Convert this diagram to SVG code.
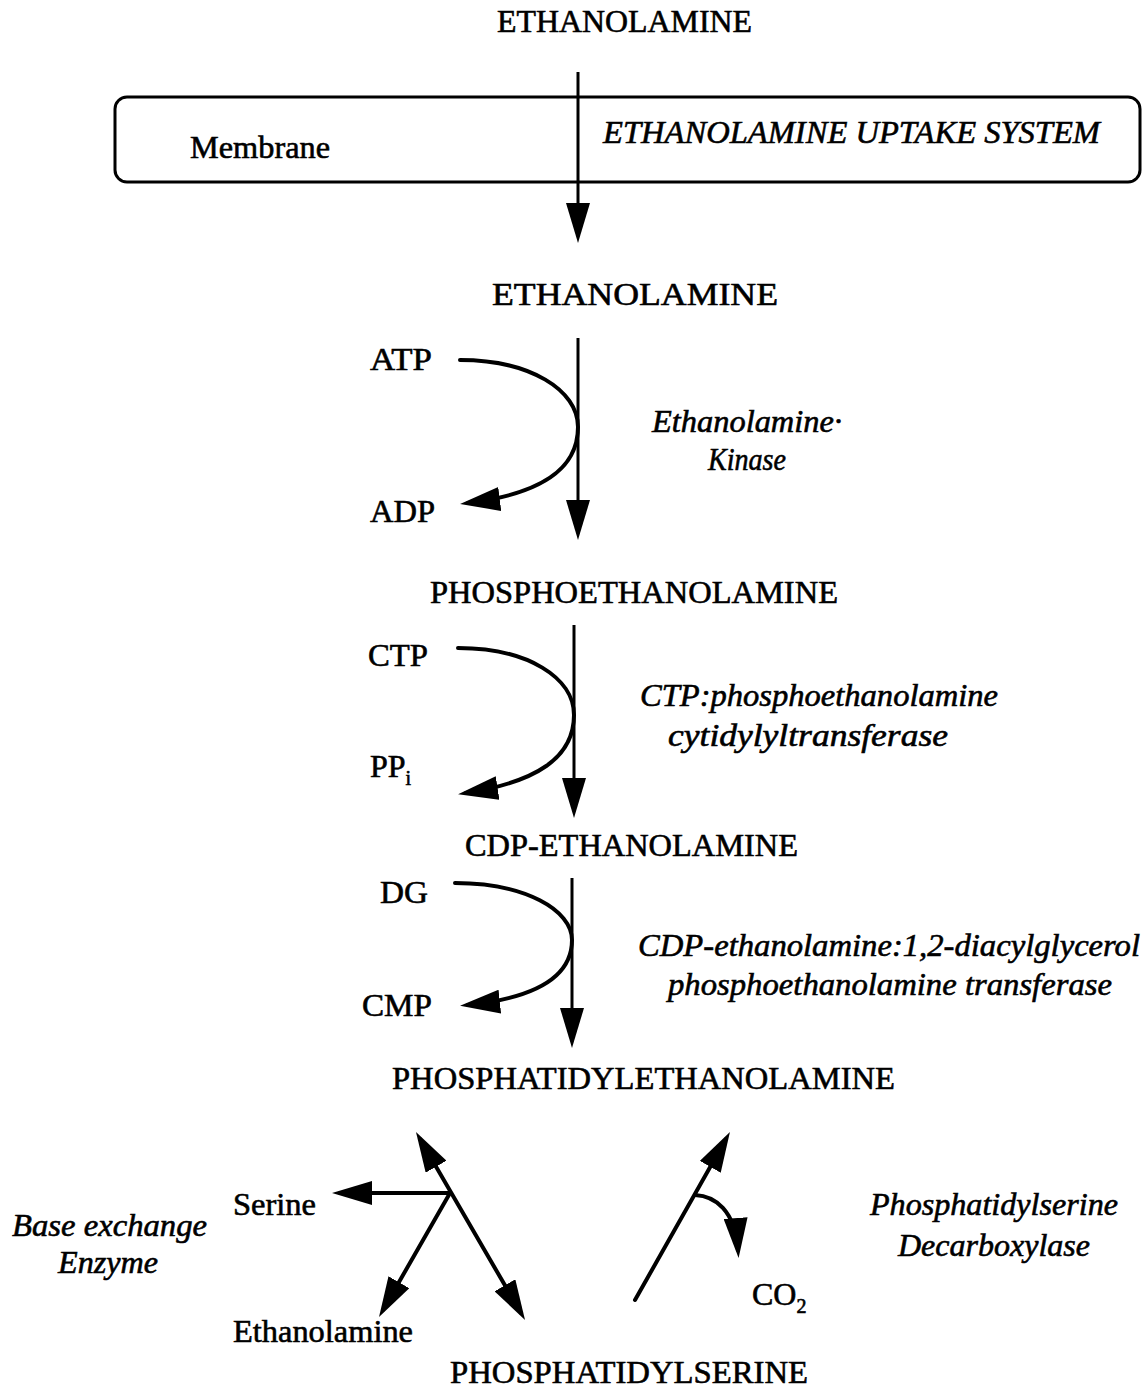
<svg xmlns="http://www.w3.org/2000/svg" width="1148" height="1389" viewBox="0 0 1148 1389">
<style>
  text { font-family: "Liberation Serif", "Times New Roman", serif; font-size: 32px; fill: #000; stroke: #000; stroke-width: 0.6; }
  .it { font-style: italic; }
  .sub { font-size: 20px; }
  .ln { fill: none; stroke: #000; stroke-width: 3; }
  .cv { fill: none; stroke: #000; stroke-width: 4; stroke-linecap: round; }
</style>
<defs>
  <marker id="ah" markerUnits="userSpaceOnUse" markerWidth="40" markerHeight="24" refX="32" refY="12" orient="auto-start-reverse" viewBox="0 0 40 24">
    <path d="M0,0 L40,12 L0,24 Z" fill="#000"/>
  </marker>
</defs>
<rect width="1148" height="1389" fill="#fff"/>

<g id="n-ethanolamine-out"><text x="497" y="32" textLength="255" lengthAdjust="spacingAndGlyphs">ETHANOLAMINE</text></g>
<g id="n-membrane">
  <rect x="115" y="97" width="1025" height="85" rx="12" ry="12" fill="none" stroke="#000" stroke-width="3"/>
  <text x="190" y="158" textLength="140" lengthAdjust="spacingAndGlyphs">Membrane</text>
  <text class="it" x="603" y="143" textLength="497" lengthAdjust="spacingAndGlyphs">ETHANOLAMINE UPTAKE SYSTEM</text>
</g>
<g id="n-ethanolamine-in"><text x="492" y="305" textLength="286" lengthAdjust="spacingAndGlyphs">ETHANOLAMINE</text></g>
<g id="n-atp"><text x="370" y="370" textLength="62" lengthAdjust="spacingAndGlyphs">ATP</text></g>
<g id="n-adp"><text x="370" y="522" textLength="65" lengthAdjust="spacingAndGlyphs">ADP</text></g>
<g id="e-kinase">
  <text class="it" x="652" y="432" textLength="190" lengthAdjust="spacingAndGlyphs">Ethanolamine·</text>
  <text class="it" x="708" y="470" textLength="78" lengthAdjust="spacingAndGlyphs">Kinase</text>
</g>
<g id="n-phosphoethanolamine"><text x="430" y="603" textLength="408" lengthAdjust="spacingAndGlyphs">PHOSPHOETHANOLAMINE</text></g>
<g id="n-ctp"><text x="368" y="666" textLength="60" lengthAdjust="spacingAndGlyphs">CTP</text></g>
<g id="n-ppi"><text x="370" y="777">PP<tspan class="sub" dy="8">i</tspan></text></g>
<g id="e-cytidylyltransferase">
  <text class="it" x="640" y="706" textLength="358" lengthAdjust="spacingAndGlyphs">CTP:phosphoethanolamine</text>
  <text class="it" x="668" y="746" textLength="280" lengthAdjust="spacingAndGlyphs">cytidylyltransferase</text>
</g>
<g id="n-cdp-ethanolamine"><text x="465" y="856" textLength="333" lengthAdjust="spacingAndGlyphs">CDP-ETHANOLAMINE</text></g>
<g id="n-dg"><text x="380" y="903" textLength="48" lengthAdjust="spacingAndGlyphs">DG</text></g>
<g id="n-cmp"><text x="362" y="1016" textLength="70" lengthAdjust="spacingAndGlyphs">CMP</text></g>
<g id="e-transferase">
  <text class="it" x="638" y="956" textLength="502" lengthAdjust="spacingAndGlyphs">CDP-ethanolamine:1,2-diacylglycerol</text>
  <text class="it" x="668" y="995" textLength="444" lengthAdjust="spacingAndGlyphs">phosphoethanolamine transferase</text>
</g>
<g id="n-phosphatidylethanolamine"><text x="392" y="1089" textLength="503" lengthAdjust="spacingAndGlyphs">PHOSPHATIDYLETHANOLAMINE</text></g>
<g id="n-serine"><text x="233" y="1215" textLength="83" lengthAdjust="spacingAndGlyphs">Serine</text></g>
<g id="e-base-exchange">
  <text class="it" x="12" y="1236" textLength="195" lengthAdjust="spacingAndGlyphs">Base exchange</text>
  <text class="it" x="58" y="1273" textLength="100" lengthAdjust="spacingAndGlyphs">Enzyme</text>
</g>
<g id="n-ethanolamine-free"><text x="233" y="1342" textLength="180" lengthAdjust="spacingAndGlyphs">Ethanolamine</text></g>
<g id="n-co2"><text x="752" y="1305">CO<tspan class="sub" dy="8">2</tspan></text></g>
<g id="e-decarboxylase">
  <text class="it" x="870" y="1215" textLength="248" lengthAdjust="spacingAndGlyphs">Phosphatidylserine</text>
  <text class="it" x="898" y="1256" textLength="192" lengthAdjust="spacingAndGlyphs">Decarboxylase</text>
</g>
<g id="n-phosphatidylserine"><text x="450" y="1383" textLength="358" lengthAdjust="spacingAndGlyphs">PHOSPHATIDYLSERINE</text></g>

<g id="connectors">
  <line class="ln" x1="578" y1="72" x2="578" y2="235" marker-end="url(#ah)"/>
  <line class="ln" x1="578" y1="338" x2="578" y2="532" marker-end="url(#ah)"/>
  <path class="cv" d="M460,360 C530,360 578,390 578,427 C578,470 540,494 468,503" marker-end="url(#ah)"/>
  <line class="ln" x1="574" y1="625" x2="574" y2="810" marker-end="url(#ah)"/>
  <path class="cv" d="M458,648 C528,648 574,678 574,715 C574,758 536,782 466,793" marker-end="url(#ah)"/>
  <line class="ln" x1="572" y1="878" x2="572" y2="1040" marker-end="url(#ah)"/>
  <path class="cv" d="M455,883 C525,883 572,910 572,940 C572,978 534,998 468,1005" marker-end="url(#ah)"/>
  <line class="cv" x1="420" y1="1139" x2="521" y2="1313" marker-start="url(#ah)" marker-end="url(#ah)"/>
  <line class="cv" x1="450" y1="1193" x2="340" y2="1193" marker-end="url(#ah)"/>
  <line class="cv" x1="450" y1="1193" x2="383" y2="1310" marker-end="url(#ah)"/>
  <line class="cv" x1="635" y1="1300" x2="726" y2="1139" marker-end="url(#ah)"/>
  <path class="cv" d="M695,1195 C715,1196 735,1210 738,1250" marker-end="url(#ah)"/>
</g>
</svg>
